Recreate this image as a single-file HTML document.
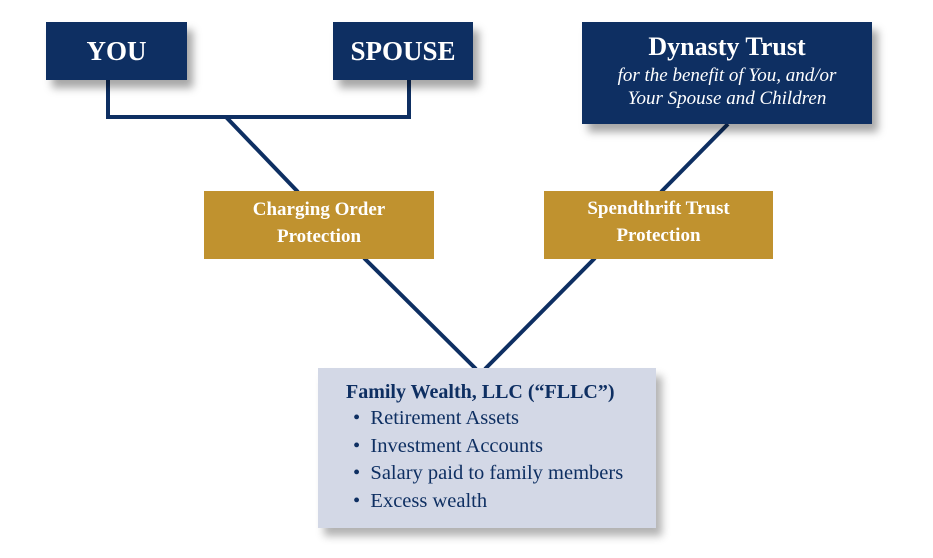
<!DOCTYPE html>
<html><head><meta charset="utf-8"><style>
html,body{margin:0;padding:0;background:#fff;}
body{width:933px;height:558px;position:relative;overflow:hidden;font-family:"Liberation Serif",serif;}
.b{position:absolute;box-sizing:border-box;display:flex;flex-direction:column;align-items:center;justify-content:center;text-align:center;}
.n{background:#0e2f62;color:#fff;box-shadow:6px 8px 8px rgba(0,0,0,0.35);}
.g{background:#c0922f;color:#fff;font-weight:bold;font-size:19px;line-height:27px;}
svg{position:absolute;left:0;top:0;}
</style></head><body>
<svg width="933" height="558">
<g stroke="#0e2f62" stroke-width="4" fill="none">
<polyline points="108,80 108,117 409,117 409,80"/>
<line x1="226" y1="117" x2="298" y2="192"/>
<line x1="728" y1="124" x2="661" y2="192"/>
<line x1="364" y1="258" x2="476" y2="369"/>
<line x1="595" y1="258" x2="485" y2="369"/>
</g>
</svg>
<div class="b n" style="left:46px;top:22px;width:141px;height:58px;font-size:27px;font-weight:bold;">YOU</div>
<div class="b n" style="left:333px;top:22px;width:140px;height:58px;font-size:27px;font-weight:bold;">SPOUSE</div>
<div class="b n" style="left:582px;top:22px;width:290px;height:102px;justify-content:flex-start;padding-top:10px;">
<div style="font-size:26px;font-weight:bold;line-height:30px;">Dynasty Trust</div>
<div style="font-size:19px;font-style:italic;line-height:23px;margin-top:2px;">for the benefit of You, and/or<br>Your Spouse and Children</div></div>
<div class="b g" style="left:204px;top:191px;width:230px;height:68px;padding-bottom:4px;">Charging Order<br>Protection</div>
<div class="b g" style="left:544px;top:191px;width:229px;height:68px;padding-bottom:6px;">Spendthrift Trust<br>Protection</div>
<div class="b" style="left:318px;top:368px;width:338px;height:160px;background:#d3d8e6;box-shadow:6px 8px 8px rgba(0,0,0,0.3);align-items:flex-start;justify-content:flex-start;text-align:left;color:#0e2f62;padding:11px 0 0 28px;">
<div style="font-size:20px;font-weight:bold;line-height:26px;">Family Wealth, LLC (“FLLC”)</div>
<div style="font-size:20.5px;line-height:27.5px;padding-left:7px;">•&nbsp; Retirement Assets<br>•&nbsp; Investment Accounts<br>•&nbsp; Salary paid to family members<br>•&nbsp; Excess wealth</div>
</div>
</body></html>
